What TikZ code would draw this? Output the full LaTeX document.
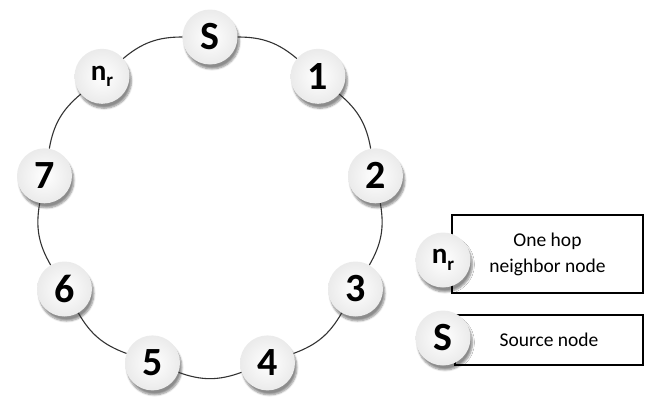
\documentclass[tikz,border=0pt]{standalone}
\usepackage{fontspec}
\setmainfont{Carlito}
\usetikzlibrary{shadows,shadows.blur}
\begin{document}
\begin{tikzpicture}[x=1pt,y=-1pt,
  ball/.style={circle, minimum size=55pt, inner sep=0pt, draw=none,
    inner color=white, outer color=gray!16,
    blur shadow={shadow xshift=2pt, shadow yshift=-4.5pt, shadow opacity=45, shadow blur steps=6},
    font=\fontsize{40}{40}\selectfont\bfseries},
  ring/.style={draw=black!80, line width=1.1pt},
  legendbox/.style={rectangle, draw=black, line width=2.3pt, fill=white, inner sep=0pt,
    align=center, font=\fontsize{19.5}{26}\selectfont},
  nr/.style={font=\fontsize{29}{29}\selectfont\bfseries}
]
\useasboundingbox (0,0) rectangle (649,399);
% ring nodes (centre (210,205), radius 168, 40 degrees apart)
\node[ball] (S)  at (210.0, 37.0) {S};
\node[ball] (n1) at (318.0, 76.3) {1};
\node[ball] (n2) at (375.5,175.8) {2};
\node[ball] (n3) at (355.5,289.0) {3};
\node[ball] (n4) at (267.5,362.9) {4};
\node[ball] (n5) at (152.5,362.9) {5};
\node[ball] (n6) at ( 64.5,289.0) {6};
\node[ball] (n7) at ( 44.5,175.8) {7};
\node[ball,nr] (nr) at (102.0, 76.3) {n\raisebox{-0.22em}{\fontsize{19}{19}\selectfont r}};
% ring connectors
\foreach \a/\b in {S/n1,n1/n2,n2/n3,n3/n4,n4/n5,n5/n6,n6/n7,n7/nr,nr/S}
  \draw[ring] (\a) to[bend left=20] (\b);
% legend
\node[legendbox, minimum width=191pt, minimum height=78pt] (box1) at (547.5,254) {One hop\\neighbor node};
\node[legendbox, minimum width=188pt, minimum height=50pt] (box2) at (549,340) {Source node};
\node[ball,nr] (lnr) at (443,260) {n\raisebox{-0.22em}{\fontsize{19}{19}\selectfont r}};
\node[ball] (lS) at (443,338) {S};
\end{tikzpicture}
\end{document}
